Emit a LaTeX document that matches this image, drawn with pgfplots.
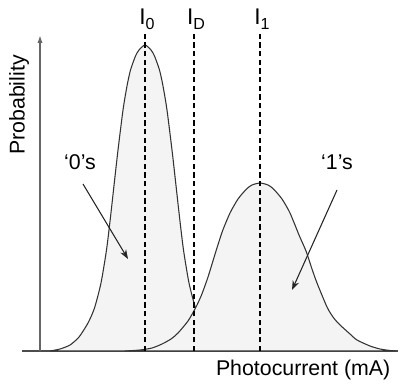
\documentclass[border=0pt]{standalone}
\usepackage{pgfplots}
\pgfplotsset{compat=1.18}
\usepackage{fontspec}
\setmainfont{Liberation Sans}
\usetikzlibrary{arrows.meta}
\newcommand{\sub}[1]{\raisebox{-0.45ex}{\fontsize{12}{12}\selectfont #1}}
\begin{document}
\begin{tikzpicture}
\begin{axis}[
  x=0.75pt, y=0.75pt,
  xmin=-18, xmax=358, ymin=0, ymax=316,
  axis lines=middle,
  x axis line style={-, line width=1.8pt, draw=black!70},
  y axis line style={-{Latex[length=6pt,width=4pt]}, line width=1.5pt, draw=black!60},
  xtick=\empty, ytick=\empty,
  clip=false,
]
\addplot[fill=gray!9, draw=black!80, line width=0.8pt, smooth, tension=0.4] coordinates {
(10,0) (20,2) (30,6) (39,14) (48,28) (54.5,43) (61,68) (66.5,101) (70.5,134) (74.5,170) (78,201) (83,241) (87,265) (90.5,281) (95.5,295) (99,301) (105,306) (111,301) (114.5,295) (119.5,281) (123,265) (127,241) (132,201) (135.5,170) (139.5,134) (143.5,101) (149,68) (155.5,43) (162,28) (171,14) (180,6) (190,2) (200,0)
} \closedcycle;
\addplot[fill=gray!9, draw=black!80, line width=0.8pt, smooth, tension=0.4] coordinates {
(85,0) (100,1) (112,3) (122,7) (131,12) (138,18) (148,30) (155.5,43) (161.5,56) (168,74) (176,100) (182.5,120) (190,138) (198,152) (206.5,162) (212,166) (220,168) (228,166) (233.5,162) (242,152) (250,138) (259,116) (266,100) (272,82) (277,68) (287,44) (293,34) (299,27) (310,17) (317,11) (330,5) (340,2) (350,0.5) (356,0)
} \closedcycle;
\addplot[black, line width=1.4pt, dash pattern=on 4pt off 2.5pt] coordinates {(105,0) (105,318)};
\addplot[black, line width=1.4pt, dash pattern=on 4pt off 2.5pt] coordinates {(154,0) (154,318)};
\addplot[black, line width=1.4pt, dash pattern=on 4pt off 2.5pt] coordinates {(220,0) (220,318)};
\node[font=\fontsize{17}{20}\selectfont] at (axis cs:107,332) {I\sub{0}};
\node[font=\fontsize{17}{20}\selectfont] at (axis cs:156,332) {I\sub{D}};
\node[font=\fontsize{17}{20}\selectfont] at (axis cs:222,332) {I\sub{1}};
\node[font=\fontsize{16}{19}\selectfont, rotate=90] at (axis cs:-21,246) {Probability};
\node[font=\fontsize{16}{19}\selectfont, anchor=east] at (axis cs:355,-19) {Photocurrent (mA)};
\node[font=\fontsize{16}{19}\selectfont] at (axis cs:40,189) {‘0’s};
\node[font=\fontsize{16}{19}\selectfont] at (axis cs:297,189) {‘1’s};
\draw[-{Stealth[length=7pt,width=5pt]}, line width=0.8pt, black!85] (axis cs:43,167) -- (axis cs:88,92);
\draw[-{Stealth[length=7pt,width=5pt]}, line width=0.8pt, black!85] (axis cs:297,161) -- (axis cs:252,61);
\coordinate (bl) at (axis cs:-40,-35);
\coordinate (tr) at (axis cs:373,351);
\end{axis}
\pgfresetboundingbox
\path[use as bounding box] (bl) rectangle (tr);
\end{tikzpicture}
\end{document}
